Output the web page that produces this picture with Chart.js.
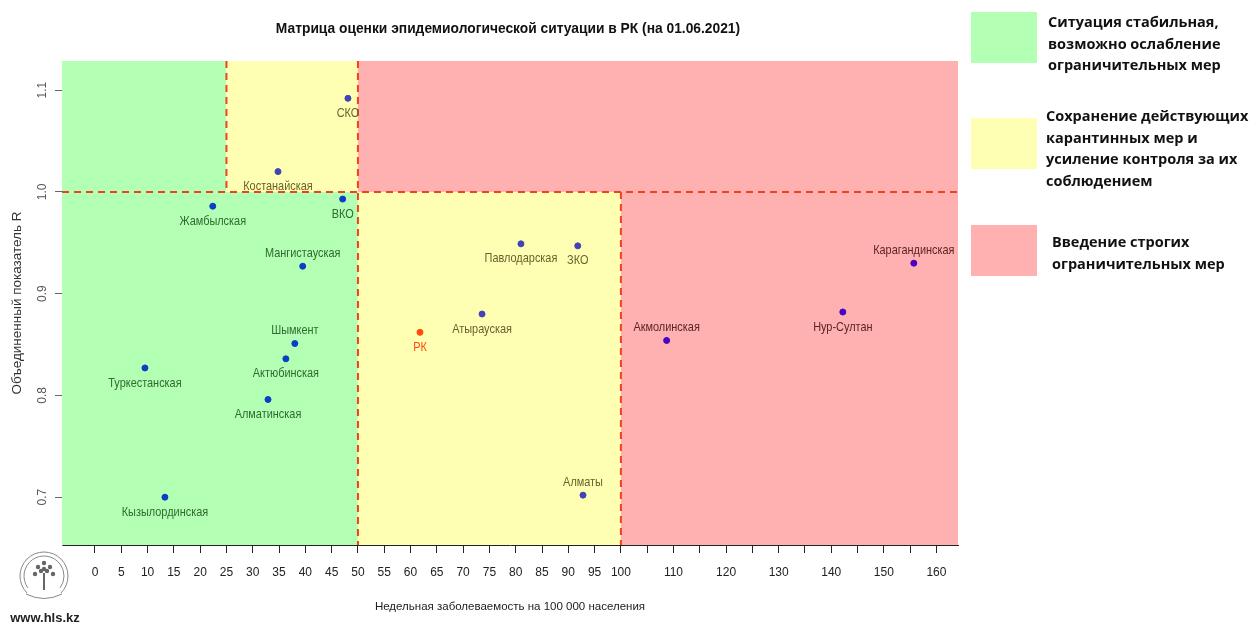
<!DOCTYPE html>
<html>
<head>
<meta charset="utf-8">
<script src="https://cdn.jsdelivr.net/npm/chart.js@4"></script>
<style>
  html, body { margin: 0; padding: 0; background: #fff; }
  #wrap { width: 1254px; height: 628px; position: relative; }
</style>
</head>
<body>
<div id="wrap"><canvas id="matrix"></canvas></div>
<script>
// data
const regions = ["СКО", "Костанайская", "Жамбылская", "ВКО", "Мангистауская", "Шымкент",
  "Актюбинская", "Туркестанская", "Алматинская", "Кызылординская", "РК", "Атырауская",
  "Павлодарская", "ЗКО", "Алматы", "Акмолинская", "Нур-Султан", "Карагандинская"];
const incidence = [48.1, 34.8, 22.4, 47.1, 39.5, 38.0, 36.3, 9.5, 32.9, 13.3, 61.8, 73.6,
  81.0, 91.8, 92.8, 108.7, 142.2, 155.7];
const rValues = [1.092, 1.020, 0.986, 0.993, 0.927, 0.851, 0.836, 0.827, 0.796, 0.700, 0.862, 0.880,
  0.949, 0.947, 0.702, 0.854, 0.882, 0.930];

const xTickValues = [0, 5, 10, 15, 20, 25, 30, 35, 40, 45, 50, 55, 60, 65, 70, 75, 80, 85, 90, 95, 100,
  105, 110, 115, 120, 125, 130, 135, 140, 145, 150, 155, 160];
const xTickLabels = [0, 5, 10, 15, 20, 25, 30, 35, 40, 45, 50, 55, 60, 65, 70, 75, 80, 85, 90, 95, 100,
  110, 120, 130, 140, 150, 160];
const yTickValues = [0.7, 0.8, 0.9, 1.0, 1.1];

const incidenceBreaks = [25, 50, 100];
const rBreak = 1.0;

const legendTexts = [
  ["Ситуация стабильная,", "возможно ослабление", "ограничительных мер"],
  ["Сохранение действующих", "карантинных мер и", "усиление контроля за их", "соблюдением"],
  ["Введение строгих", "ограничительных мер"]
];

const labelsAbove = ["Мангистауская", "Шымкент", "Алматы", "Акмолинская", "Карагандинская"];

const zoneFill = ["#b3ffb3", "#ffffb3", "#ffb0b0"];
const zonePoint = ["#0a40c6", "#4343b8", "#4a00c4"];
const zoneText = ["#2f6b30", "#67622c", "#5e2424"];
const rkColor = "#ff4a10";
const sans = "'Liberation Sans', Arial, sans-serif";

function zoneOf(x, r) {
  if (r >= rBreak) {
    return x < incidenceBreaks[0] ? 0 : x < incidenceBreaks[1] ? 1 : 2;
  }
  return x < incidenceBreaks[1] ? 0 : x < incidenceBreaks[2] ? 1 : 2;
}

const points = regions.map((name, i) => ({ x: incidence[i], y: rValues[i], name: name }));
const pointColors = points.map((p) => (p.name === "РК" ? rkColor : zonePoint[zoneOf(p.x, p.y)]));

// narrow text, like the squeezed R output
function narrowText(ctx, text, x, y, squeeze) {
  ctx.save();
  ctx.translate(x, y);
  ctx.scale(squeeze, 1);
  ctx.fillText(text, 0, 0);
  ctx.restore();
}

// zones, dashed borders, labels, y tick labels, title and side legend
const matrixPlugin = {
  id: "matrix",
  beforeDatasetsDraw(chart) {
    const { ctx, chartArea: a, scales: { x, y } } = chart;
    const x25 = x.getPixelForValue(incidenceBreaks[0]);
    const x50 = x.getPixelForValue(incidenceBreaks[1]);
    const x100 = x.getPixelForValue(incidenceBreaks[2]);
    const y1 = y.getPixelForValue(rBreak);
    ctx.save();
    const rect = (c, l, t, r, b) => { ctx.fillStyle = zoneFill[c]; ctx.fillRect(l, t, r - l, b - t); };
    rect(0, a.left, a.top, x25, y1);
    rect(1, x25, a.top, x50, y1);
    rect(2, x50, a.top, a.right, y1);
    rect(0, a.left, y1, x50, a.bottom);
    rect(1, x50, y1, x100, a.bottom);
    rect(2, x100, y1, a.right, a.bottom);

    ctx.strokeStyle = "#f2421c";
    ctx.lineWidth = 2;
    ctx.setLineDash([7, 5]);
    const line = (x0, y0, x1, y1b) => { ctx.beginPath(); ctx.moveTo(x0, y0); ctx.lineTo(x1, y1b); ctx.stroke(); };
    line(x25, a.top, x25, y1);
    line(x50, a.top, x50, a.bottom);
    line(x100, y1, x100, a.bottom);
    line(a.left, y1, a.right, y1);
    ctx.restore();
  },
  afterDatasetsDraw(chart) {
    const { ctx } = chart;
    const meta = chart.getDatasetMeta(0);
    ctx.save();
    ctx.font = "13px " + sans;
    ctx.textAlign = "center";
    ctx.textBaseline = "middle";
    meta.data.forEach((el, i) => {
      const p = points[i];
      ctx.fillStyle = p.name === "РК" ? rkColor : zoneText[zoneOf(p.x, p.y)];
      const dy = labelsAbove.includes(p.name) ? -13 : 15;
      narrowText(ctx, p.name, el.x, el.y + dy, 0.84);
    });
    ctx.restore();
  },
  afterDraw(chart) {
    const { ctx, chartArea: a, scales: { y } } = chart;
    ctx.save();
    // vertical y tick labels
    ctx.font = "12px " + sans;
    ctx.fillStyle = "#555";
    ctx.textAlign = "center";
    ctx.textBaseline = "middle";
    yTickValues.forEach((v) => {
      ctx.save();
      ctx.translate(43, y.getPixelForValue(v));
      ctx.rotate(-Math.PI / 2);
      ctx.fillText(v.toFixed(1), 0, 0);
      ctx.restore();
    });

    // title
    ctx.font = "bold 15px " + sans;
    ctx.fillStyle = "#111";
    narrowText(ctx, "Матрица оценки эпидемиологической ситуации в РК (на 01.06.2021)", (a.left + a.right) / 2 - 2, 29, 0.92);

    // side legend
    const boxTops = [12, 118, 225];
    const textTops = [23, 117, 243];
    const textLefts = [1048, 1046, 1052];
    ctx.font = "bold 14.5px 'Open Sans', sans-serif";
    ctx.textAlign = "left";
    legendTexts.forEach((lines, i) => {
      ctx.fillStyle = zoneFill[i];
      ctx.fillRect(971, boxTops[i], 66, 51);
      ctx.fillStyle = "#111";
      lines.forEach((t, j) => ctx.fillText(t, textLefts[i], textTops[i] + j * 21.5));
    });

    // logo: round emblem with a tree, and the site address
    ctx.strokeStyle = "#888";
    ctx.lineWidth = 1;
    ctx.beginPath();
    ctx.arc(44, 576, 24, Math.PI * 0.75, Math.PI * 2.25);
    ctx.stroke();
    ctx.beginPath();
    ctx.arc(44, 576, 20, Math.PI * 0.8, Math.PI * 2.2);
    ctx.stroke();
    ctx.fillStyle = "#666";
    [[44, 563], [38, 567], [50, 567], [35, 574], [53, 574], [41, 571], [47, 571], [44, 569]].forEach(([cx, cy]) => {
      ctx.beginPath();
      ctx.arc(cx, cy, 2.2, 0, Math.PI * 2);
      ctx.fill();
    });
    ctx.fillRect(43, 573, 2, 17);
    ctx.beginPath();
    ctx.moveTo(26, 594);
    ctx.quadraticCurveTo(44, 603, 62, 594);
    ctx.stroke();

    ctx.font = "bold 13px " + sans;
    ctx.textAlign = "center";
    ctx.fillStyle = "#222";
    ctx.fillText("www.hls.kz", 45, 618);
    ctx.restore();
  }
};

new Chart(document.getElementById("matrix"), {
  type: "scatter",
  data: {
    datasets: [{
      label: "Регионы",
      data: points,
      backgroundColor: pointColors,
      borderColor: pointColors,
      pointRadius: 3,
      pointHoverRadius: 3
    }]
  },
  options: {
    responsive: true,
    maintainAspectRatio: false,
    animation: false,
    events: [],
    layout: { padding: { top: 61, right: 296, left: 0, bottom: 0 } },
    plugins: {
      legend: { display: false },
      title: { display: false },
      tooltip: { enabled: false }
    },
    scales: {
      x: {
        type: "linear",
        min: -6.27,
        max: 164.1,
        afterBuildTicks: (s) => { s.ticks = xTickValues.map((v) => ({ value: v })); },
        afterFit: (s) => { s.height = 83; },
        ticks: {
          autoSkip: false,
          maxRotation: 0,
          padding: 12,
          color: "#222",
          font: { family: sans, size: 12 },
          callback: (v) => (xTickLabels.includes(v) ? String(v) : "")
        },
        grid: { drawOnChartArea: false, drawTicks: true, tickLength: 8, color: "#222" },
        border: { color: "#222", width: 1 },
        title: {
          display: true,
          text: "Недельная заболеваемость на 100 000 населения",
          color: "#222",
          font: { family: sans, size: 11.5 },
          padding: { top: 0, bottom: 14 }
        }
      },
      y: {
        type: "linear",
        min: 0.653,
        max: 1.1287,
        afterBuildTicks: (s) => { s.ticks = yTickValues.map((v) => ({ value: v })); },
        afterFit: (s) => { s.width = 62; },
        ticks: { callback: () => "", padding: 0 },
        grid: { drawOnChartArea: false, drawTicks: true, tickLength: 7, color: "#666" },
        border: { color: "#4f8f4f", width: 1 },
        title: {
          display: true,
          text: "Объединенный показатель R",
          color: "#333",
          font: { family: sans, size: 13.5 },
          padding: { top: 9, bottom: 0 }
        }
      }
    }
  },
  plugins: [matrixPlugin]
});
</script>
</body>
</html>
